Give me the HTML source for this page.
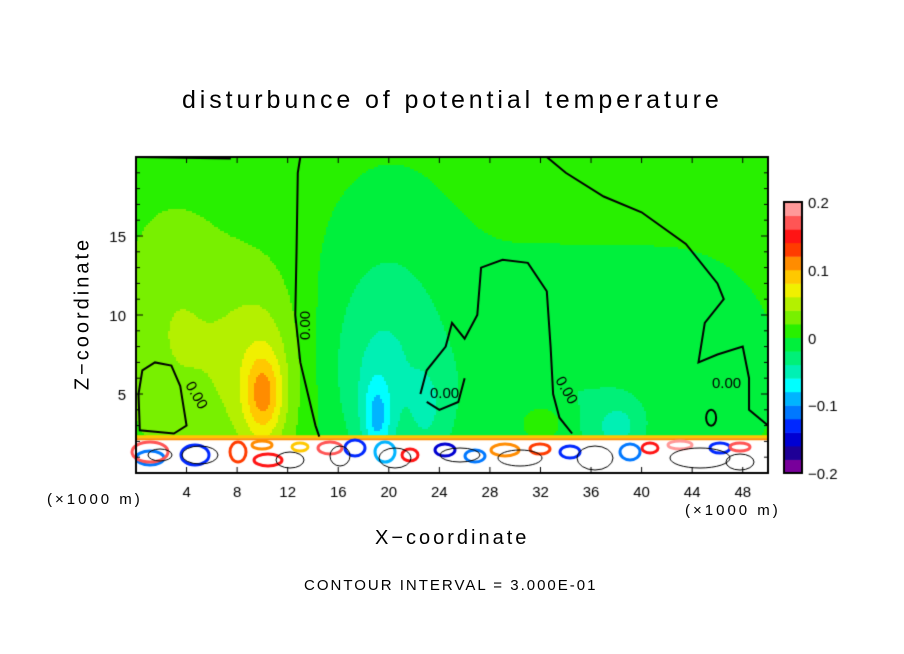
<!DOCTYPE html>
<html><head><meta charset="utf-8"><style>
body{margin:0;background:#fff;}
#w{position:relative;width:904px;height:654px;font-family:"Liberation Sans",sans-serif;color:#000;}
.t{position:absolute;white-space:nowrap;}
</style></head><body>
<div id="w">
<div class="t" style="left:182px;top:86px;font-size:25px;letter-spacing:3.9px;">disturbunce of potential temperature</div>
<canvas id="c" width="904" height="654" style="position:absolute;left:0;top:0"></canvas>
<div class="t" style="left:-2px;top:302px;font-size:20px;letter-spacing:3px;transform:rotate(-90deg);transform-origin:center;width:170px;text-align:center;">Z−coordinate</div>
<div class="t" style="left:375px;top:527px;font-size:20px;letter-spacing:3px;">X−coordinate</div>
<div class="t" style="left:47px;top:491px;font-size:15px;letter-spacing:3px;">(×1000 m)</div>
<div class="t" style="left:685px;top:502px;font-size:15px;letter-spacing:3px;">(×1000 m)</div>
<div class="t" style="left:304px;top:577px;font-size:15px;letter-spacing:2px;">CONTOUR INTERVAL = 3.000E-01</div>
</div>
<script>
const xTicks=[4,8,12,16,20,24,28,32,36,40,44,48];
const zTicks=[5,10,15];
const cbLabels=["0.2","0.1","0","−0.1","−0.2"];
const cbValues=[0.2,0.1,0,-0.1,-0.2];
const levelColors=["#78009b","#1e0096","#0000d2","#0028ff","#0078ff","#00b4ff","#00ffff","#00f0b4","#00f078","#00f03c","#28f000","#78f000","#b4f000","#f0f000","#ffc800","#ff8c00","#ff3c00","#ff1414","#ff5555","#ff9999"];
// blobs: center x, center z, amplitude, sigma x, sigma z
const blobX=[10,10,5,20,19,18.5,38,32,35,30,44,2,23];
const blobZ=[5,6,8,8,3.5,6,3,3.2,3,5,7,10,4];
const blobA=[0.06,0.04,0.025,-0.03,-0.055,-0.015,-0.035,0.035,-0.012,-0.015,-0.01,0.015,-0.02];
const blobSX=[1.0,2.2,4,3.5,0.8,2.5,1.2,1.3,6,8,5,3,1];
const blobSZ=[1.8,4.5,6,6,1.8,4,1,0.9,5,6,5,6,2];
const base=0.005;
const X0=136,X1=768,Y0=473,Y1=157;
const sx=v=>X0+(v/50)*(X1-X0);
const sz=v=>Y0-(v/20)*(Y0-Y1);
const cbTop=202,cbBot=473,cbL=784,cbR=802;
const cv=v=>cbBot-(v+0.2)/0.4*(cbBot-cbTop);
function field(x,z){let s=base;for(let i=0;i<blobX.length;i++){const dx=(x-blobX[i])/blobSX[i],dz=(z-blobZ[i])/blobSZ[i];s+=blobA[i]*Math.exp(-0.5*(dx*dx+dz*dz));}return s;}
function col(v){let k=Math.floor((v+0.2)/0.02);k=Math.max(0,Math.min(19,k));return levelColors[k];}
const c=document.getElementById('c').getContext('2d');
const st=2;
for(let py=Y1;py<Y0;py+=st)for(let px=X0;px<X1;px+=st){const x=(px-X0)/(X1-X0)*50,z=(Y0-py)/(Y0-Y1)*20;c.fillStyle=col(field(x,z));c.fillRect(px,py,st,st);}
// bottom turbulent layer
const yb=sz(2.2);
c.fillStyle="#fff";c.fillRect(X0,yb,X1-X0,Y0-yb);
c.fillStyle="#ffc800";c.fillRect(X0,yb-3,X1-X0,3);
c.fillStyle="#ff8c00";c.fillRect(X0,yb,X1-X0,2);
const sw=[[150,458,14,7,"#0078ff"],[150,452,18,10,"#ff5555"],[195,455,14,10,"#0028ff"],[238,452,8,10,"#ff3c00"],[268,460,14,6,"#ff1414"],[262,445,10,4,"#ff8c00"],[300,447,8,4,"#ffc800"],[330,448,12,6,"#ff5555"],[355,448,10,8,"#0028ff"],[385,452,10,10,"#00b4ff"],[410,455,8,6,"#ff1414"],[445,450,10,6,"#0000d2"],[475,456,10,6,"#0078ff"],[505,450,14,6,"#ff8c00"],[540,449,10,5,"#ff3c00"],[570,452,10,6,"#0028ff"],[630,452,10,8,"#0078ff"],[650,448,8,5,"#ff1414"],[680,445,12,4,"#ff9999"],[720,448,10,5,"#0028ff"],[740,447,10,4,"#ff5555"]];
sw.forEach(s=>{c.strokeStyle=s[4];c.lineWidth=3;c.beginPath();c.ellipse(s[0],s[1],s[2],s[3],0,0,7);c.stroke();});
c.strokeStyle="#000";c.lineWidth=1;
[[160,455,12,6],[200,455,18,9],[290,460,14,8],[340,456,10,10],[395,458,16,10],[460,455,20,7],[520,458,22,8],[595,458,18,12],[700,458,30,10],[740,462,14,8]].forEach(s=>{c.beginPath();c.ellipse(s[0],s[1],s[2],s[3],0,0,7);c.stroke();});
const contours=[
[[0,20],[7.5,19.9]],
[[13,20],[12.8,19],[12.7,14],[12.6,10],[13,7],[13.6,5],[14.2,3],[14.5,2.3]],
[[32.5,20],[34,19],[37,17.5],[40,16.5],[43.5,14.5],[46,12],[46.5,11],[45,9.5],[44.5,7],[46,7.5],[48,8],[48.5,6],[48.5,4],[50,3]],
[[22.5,5],[23,6.5],[24.5,8],[25,9.5],[26,8.5],[27,10],[27.3,13],[29,13.5],[31,13.3],[32.5,11.5],[32.8,8],[33,5],[33.5,3.5],[34.5,2.5]],
[[0.2,5],[0.5,6.5],[1.5,7],[2.8,6.8],[3.5,5.5],[3.8,4],[4,3],[3,2.5],[0.3,2.7],[0.2,5]],
[[26,6],[25.5,4.5],[24,4],[23,4.5]]];
c.strokeStyle="#000";c.lineWidth=2;
contours.forEach(l=>{c.beginPath();l.forEach((p,i)=>i?c.lineTo(sx(p[0]),sz(p[1])):c.moveTo(sx(p[0]),sz(p[1])));c.stroke();});
c.beginPath();c.ellipse(sx(45.5),sz(3.5),5,8,0,0,7);c.stroke();
c.font="15px 'Liberation Sans',sans-serif";c.fillStyle="#000";
[[430,398],[712,388]].forEach(p=>c.fillText("0.00",p[0],p[1]));
c.save();c.translate(300,340);c.rotate(-Math.PI/2);c.fillText("0.00",0,10);c.restore();
c.save();c.translate(185,385);c.rotate(Math.PI/3);c.fillText("0.00",0,0);c.restore();
c.save();c.translate(555,380);c.rotate(Math.PI/3);c.fillText("0.00",0,0);c.restore();
c.lineWidth=2;c.strokeRect(X0,Y1,X1-X0,Y0-Y1);
c.lineWidth=1;c.font="15px 'Liberation Sans',sans-serif";c.textAlign="center";
xTicks.forEach(v=>{c.beginPath();c.moveTo(sx(v),Y0);c.lineTo(sx(v),Y0-6);c.moveTo(sx(v),Y1);c.lineTo(sx(v),Y1+6);c.stroke();c.fillText(v,sx(v),497);});
c.textAlign="right";
for(let v=1;v<20;v++){const L=zTicks.includes(v)?7:4;c.beginPath();c.moveTo(X0,sz(v));c.lineTo(X0+L,sz(v));c.moveTo(X1,sz(v));c.lineTo(X1-L,sz(v));c.stroke();}
zTicks.forEach(v=>c.fillText(v,126,sz(v)+6));
levelColors.forEach((cl,i)=>{const lo=-0.2+i*0.02;c.fillStyle=cl;c.fillRect(cbL,cv(lo+0.02),cbR-cbL,cv(lo)-cv(lo+0.02)+0.5);});
c.lineWidth=2;c.strokeRect(cbL,cbTop,cbR-cbL,cbBot-cbTop);
c.fillStyle="#000";c.textAlign="left";
cbValues.forEach((v,i)=>c.fillText(cbLabels[i],808,cv(v)+6));
</script>
</body></html>
